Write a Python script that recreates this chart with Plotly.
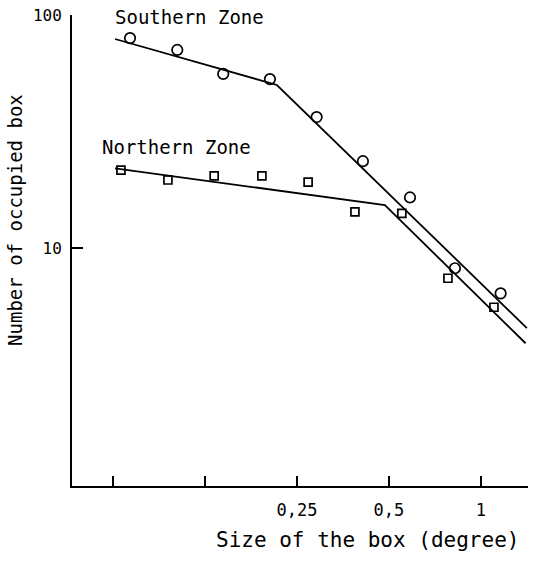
import plotly.graph_objects as go

# Observed occupied-box counts per box size (degree)
south_size = [0.0711, 0.1015, 0.1435, 0.204, 0.290, 0.411, 0.586, 0.822, 1.16]
south_count = [79.6, 70.8, 55.9, 53.1, 36.5, 23.6, 16.5, 8.2, 6.4]

north_size = [0.0664, 0.0946, 0.134, 0.192, 0.272, 0.387, 0.551, 0.780, 1.103]
north_count = [21.6, 19.6, 20.4, 20.4, 19.2, 14.3, 14.1, 7.43, 5.58]

# Two-segment fitted lines (start, break point, end)
south_fit_size = [0.0635, 0.215, 1.414]
south_fit_count = [78.9, 50.1, 4.54]
north_fit_size = [0.0635, 0.485, 1.40]
north_fit_count = [22.0, 15.3, 3.91]

# Axis ticks
x_tickvals = [0.0625, 0.125, 0.25, 0.5, 1]
x_ticktext = ["", "", "0,25", "0,5", "1"]
y_tickvals = [10, 100]
y_ticktext = ["10", "100"]

MONO = "DejaVu Sans Mono"
INK = "black"

fig = go.Figure()

fig.add_trace(go.Scatter(x=south_fit_size, y=south_fit_count, mode="lines",
                         line=dict(color=INK, width=1.8), showlegend=False))
fig.add_trace(go.Scatter(x=north_fit_size, y=north_fit_count, mode="lines",
                         line=dict(color=INK, width=1.8), showlegend=False))
fig.add_trace(go.Scatter(x=south_size, y=south_count, mode="markers",
                         marker=dict(symbol="circle-open", size=10.5, color=INK,
                                     line=dict(width=1.7, color=INK)),
                         showlegend=False))
fig.add_trace(go.Scatter(x=north_size, y=north_count, mode="markers",
                         marker=dict(symbol="square-open", size=8, color=INK,
                                     line=dict(width=1.7, color=INK)),
                         showlegend=False))

fig.update_layout(
    width=534, height=563,
    margin=dict(l=72, r=6, t=15, b=77),
    paper_bgcolor="white", plot_bgcolor="white",
    font=dict(family=MONO, color=INK),
    xaxis=dict(type="log", range=[-1.338, 0.154],
               tickvals=x_tickvals, ticktext=x_ticktext,
               ticks="inside", ticklen=10, tickwidth=1.6, tickcolor=INK,
               showline=True, linecolor=INK, linewidth=2,
               showgrid=False, zeroline=False,
               tickfont=dict(family=MONO, size=17, color=INK),
               ticklabelstandoff=8),
    yaxis=dict(type="log", range=[-0.02, 2],
               tickvals=y_tickvals, ticktext=y_ticktext,
               ticks="inside", ticklen=11, tickwidth=1.6, tickcolor=INK,
               showline=True, linecolor=INK, linewidth=2,
               showgrid=False, zeroline=False,
               tickfont=dict(family=MONO, size=16, color=INK),
               ticklabelstandoff=5),
)

fig.add_annotation(text="Size of the box (degree)", xref="paper", yref="paper",
                   x=0.647, y=-0.1146, xanchor="center", yanchor="middle",
                   showarrow=False, font=dict(family=MONO, size=21, color=INK))
fig.add_annotation(text="Number of occupied box", xref="paper", yref="paper",
                   x=-0.125, y=0.565, xanchor="center", yanchor="middle",
                   textangle=-90, showarrow=False,
                   font=dict(family=MONO, size=19, color=INK))
fig.add_annotation(text="Southern Zone", xref="paper", yref="paper",
                   x=0.0899, y=0.9958, xanchor="left", yanchor="middle",
                   showarrow=False, font=dict(family=MONO, size=19, color=INK))
fig.add_annotation(text="Northern Zone", xref="paper", yref="paper",
                   x=0.0614, y=0.7197, xanchor="left", yanchor="middle",
                   showarrow=False, font=dict(family=MONO, size=19, color=INK))

fig.write_html("out.html")
